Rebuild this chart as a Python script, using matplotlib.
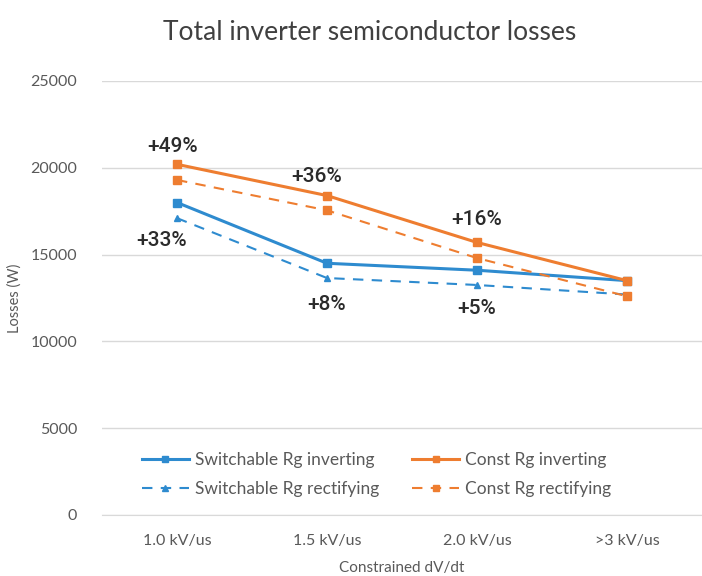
import matplotlib
matplotlib.use("Agg")
import matplotlib.pyplot as plt

categories = ["1.0 kV/us", "1.5 kV/us", "2.0 kV/us", ">3 kV/us"]
switch_inv = [18000, 14500, 14100, 13500]
const_inv = [20200, 18400, 15700, 13500]
switch_rect = [17100, 13650, 13250, 12700]
const_rect = [19300, 17550, 14800, 12600]
yticks = [0, 5000, 10000, 15000, 20000, 25000]
annot_const = ["+49%", "+36%", "+16%"]
annot_switch = ["+33%", "+8%", "+5%"]

BLUE = "#2E8BCF"
ORANGE = "#EE7D30"

fig = plt.figure(figsize=(7.02, 5.76), dpi=100)
ax = fig.add_axes([102/702, 1-515/576, 600/702, (515-81)/576])
x = list(range(len(categories)))

l1, = ax.plot(x, switch_inv, color=BLUE, lw=2.2, marker="s", ms=6, label="Switchable Rg inverting")
l2, = ax.plot(x, const_inv, color=ORANGE, lw=2.2, marker="s", ms=6, label="Const Rg inverting")
l3, = ax.plot(x, switch_rect, color=BLUE, lw=1.5, ls=(0, (5, 4)), marker="^", ms=5, label="Switchable Rg rectifying")
l4, = ax.plot(x, const_rect, color=ORANGE, lw=1.5, ls=(0, (5, 4)), marker="s", ms=6, label="Const Rg rectifying")

ax.set_xlim(-0.5, 3.5)
ax.set_ylim(0, 25000)
ax.set_yticks(yticks)
ax.set_xticks(x)
ax.set_xticklabels(categories)
ax.grid(axis="y", color="#D9D9D9", lw=1)
ax.set_axisbelow(True)
for s in ["top", "right", "left"]:
    ax.spines[s].set_visible(False)
ax.spines["bottom"].set_color("#D9D9D9")
ax.tick_params(axis="both", length=0, labelsize=11.5, labelcolor="#595959")
ax.tick_params(axis="y", pad=18)
ax.tick_params(axis="x", pad=14)
for lab in ax.get_xticklabels() + ax.get_yticklabels():
    lab.set_family("Lato")

ax.set_ylabel("Losses (W)", fontsize=10.5, color="#595959", family="Lato", labelpad=6)
ax.set_xlabel("Constrained dV/dt", fontsize=11, color="#595959", family="Lato", labelpad=9)
fig.text(0.527, 0.943, "Total inverter semiconductor losses", ha="center", va="center",
         fontsize=19, color="#404040", family="Lato")

afont = dict(fontsize=15, color="#2B2B2B", family="Roboto", weight="medium", ha="center", va="center")
const_off = [(-0.03, 1050), (-0.07, 1100), (0, 1350)]
switch_off = [(-0.1, -1300), (0.0, -1500), (0, -1350)]
for i, t in enumerate(annot_const):
    ax.text(x[i] + const_off[i][0], const_inv[i] + const_off[i][1], t, **afont)
for i, t in enumerate(annot_switch):
    ax.text(x[i] + switch_off[i][0], switch_rect[i] + switch_off[i][1], t, **afont)

leg = ax.legend([l1, l3, l2, l4], [l.get_label() for l in (l1, l3, l2, l4)],
                loc="lower center", bbox_to_anchor=(0.457, 0.005), ncol=2, frameon=False,
                handlelength=2.75, handletextpad=0.3, columnspacing=1.9, labelspacing=0.75,
                markerscale=0.8, prop={"family": "Lato", "size": 12.5})
for t in leg.get_texts():
    t.set_color("#595959")

fig.savefig("out.png", dpi=100)
